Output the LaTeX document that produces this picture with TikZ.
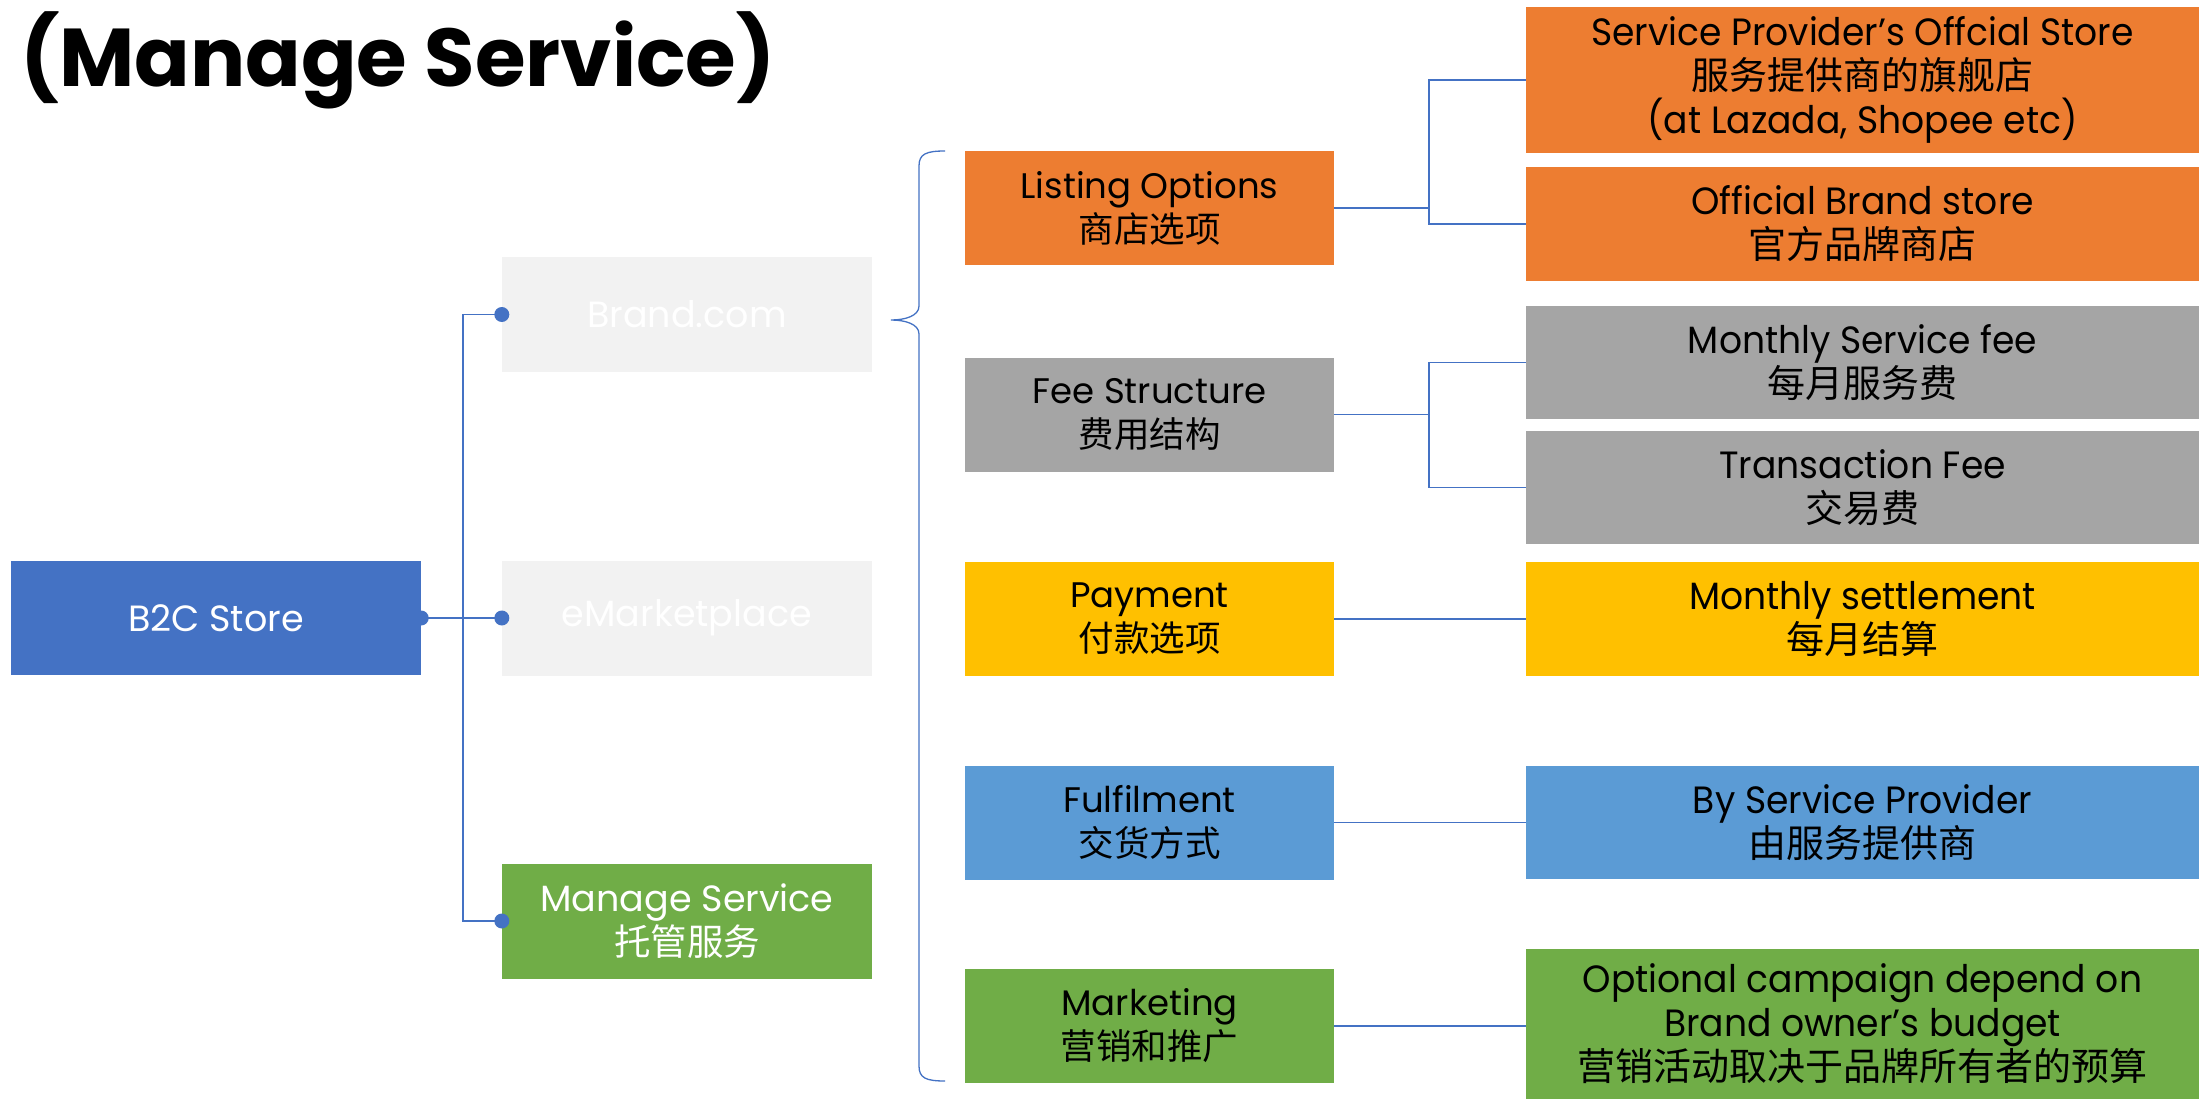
\documentclass[tikz,border=0pt]{standalone}
\usepackage{fontspec}
\usetikzlibrary{calc,backgrounds}
\setmainfont{Poppins}
\newfontfamily\cjk{Noto Sans CJK SC}
\newfontfamily\nlat{Poppins}[FakeStretch=0.95]

\definecolor{cblue}{HTML}{4472C4}
\definecolor{corange}{HTML}{ED7D31}
\definecolor{cgray}{HTML}{A5A5A5}
\definecolor{cgold}{HTML}{FFC000}
\definecolor{csky}{HTML}{5B9BD5}
\definecolor{cgreen}{HTML}{70AD47}
\definecolor{clight}{HTML}{F2F2F2}

\tikzset{
  box/.style={rectangle, inner sep=0pt, align=center, text=black},
  lft/.style={box, minimum width=370pt, minimum height=115pt, text=white,
    font=\fontsize{36.5}{44}\selectfont},
  mid/.style={box, minimum width=369pt, minimum height=114pt,
    font=\fontsize{35.5}{44}\selectfont},
  rt/.style={box, minimum width=673pt, minimum height=114pt,
    font=\fontsize{38}{44}\selectfont\nlat},
  link/.style={draw=cblue, line width=1.6pt},
  knob/.style={fill=cblue},
}

\begin{document}
\begin{tikzpicture}[x=1pt,y=-1pt]
\useasboundingbox (0,0) rectangle (2199,1099);

% heading
\node[anchor=base west, inner sep=0pt, font=\fontsize{82}{96}\selectfont\bfseries]
  (title) at (20,87) {(Manage Service)};

% root and first level
\node[lft, fill=cblue, minimum width=410pt, minimum height=114pt] (b2c) at (216,618) {B2C Store};
\node[lft, fill=clight] (brand) at (687,314.5) {Brand.com};
\node[lft, fill=clight] (emkt) at (687,618) {eMarketplace};
\node[lft, fill=cgreen] (mng) at (687,921) {Manage Service\\{\cjk\fontsize{36.5}{44}\selectfont 托管服务}};

% service aspects
\node[mid, fill=corange] (listing) at (1149.5,208) {Listing Options\\{\cjk 商店选项}};
\node[mid, fill=cgray] (fee) at (1149.5,414.5) {Fee Structure\\{\cjk 费用结构}};
\node[mid, fill=cgold] (pay) at (1149.5,619) {Payment\\{\cjk 付款选项}};
\node[mid, fill=csky] (ful) at (1149.5,822.5) {Fulfilment\\{\cjk 交货方式}};
\node[mid, fill=cgreen] (mkt) at (1149.5,1026) {Marketing\\{\cjk 营销和推广}};

% details
\node[rt, fill=corange, minimum height=146pt] (spos) at (1862.5,80)
  {Service Provider’s Offcial Store\\{\cjk 服务提供商的旗舰店}\\(at Lazada, Shopee etc)};
\node[rt, fill=corange] (obs) at (1862.5,224) {Official Brand store\\{\cjk 官方品牌商店}};
\node[rt, fill=cgray, minimum height=113pt] (msf) at (1862.5,362.5) {Monthly Service fee\\{\cjk 每月服务费}};
\node[rt, fill=cgray, minimum height=113pt] (tf) at (1862.5,487.5) {Transaction Fee\\{\cjk 交易费}};
\node[rt, fill=cgold] (ms) at (1862.5,619) {Monthly settlement\\{\cjk 每月结算}};
\node[rt, fill=csky, minimum height=113pt] (bsp) at (1862.5,822.5) {By Service Provider\\{\cjk 由服务提供商}};
\node[rt, fill=cgreen, minimum height=150pt] (oc) at (1862.5,1024)
  {Optional campaign depend on\\Brand owner’s budget\\{\cjk 营销活动取决于品牌所有者的预算}};

% white page, with the root's knob tucked under its box
\begin{scope}[on background layer]
  \fill[white] (0,0) rectangle (2199,1099);
  \fill[knob] (b2c.east) circle (7.5pt);
\end{scope}

% tree connectors from the root
\coordinate (jl) at (463,0);
\draw[link] (b2c.east) -- (b2c.east -| jl) |- (brand.west);
\draw[link] (b2c.east -| jl) |- (emkt.west);
\draw[link] (b2c.east -| jl) |- (mng.west);
\fill[knob] (brand.west) circle (7.5pt);
\fill[knob] (emkt.west) circle (7.5pt);
\fill[knob] (mng.west) circle (7.5pt);

% brace grouping the service aspects
\coordinate (bt) at (945,151);
\coordinate (bb) at (945,1081);
\coordinate (tip) at (891,320);
\draw[link, line width=1.3pt] (bt) .. controls (926,151) and (919,154) .. (919,166)
  -- (919,306) .. controls (919,316) and (905,320) .. (tip)
  .. controls (905,320) and (919,324) .. (919,334)
  -- (919,1066) .. controls (919,1078) and (926,1081) .. (bb);

% connectors to the details
\coordinate (jr) at (1429,0);
\draw[link] (listing.east) -- (listing.east -| jr) |- (spos.west);
\draw[link] (listing.east -| jr) |- (obs.west);
\draw[link] (fee.east) -- (fee.east -| jr) |- (msf.west);
\draw[link] (fee.east -| jr) |- (tf.west);
\draw[link] (pay.east) -- (pay.east -| ms.west);
\draw[link] (ful.east) -- (ful.east -| bsp.west);
\draw[link] (mkt.east) -- (mkt.east -| oc.west);
\end{tikzpicture}
\end{document}
